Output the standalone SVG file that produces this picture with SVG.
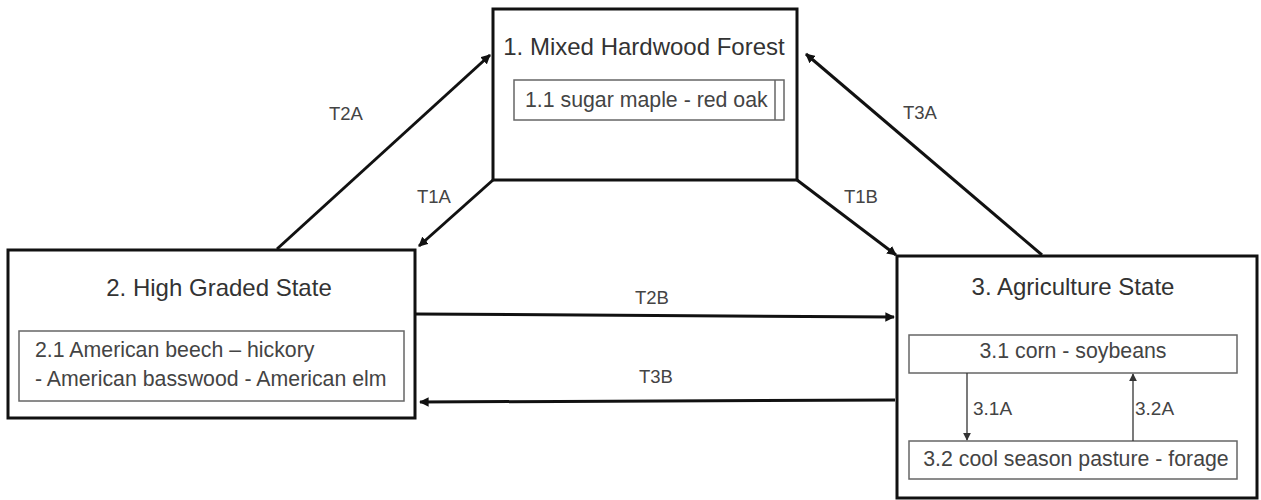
<svg xmlns="http://www.w3.org/2000/svg" width="1261" height="500" viewBox="0 0 1261 500">
<defs>
<style>
.box{fill:#fff;stroke:#111;stroke-width:3}
.inner{fill:#fff;stroke:#666;stroke-width:1.5}
.title{font-family:"Liberation Sans",Arial,sans-serif;font-size:24px;fill:#333;text-anchor:middle}
.sub{font-family:"Liberation Sans",Arial,sans-serif;font-size:21.3px;fill:#444}
.lbl{font-family:"Liberation Sans",Arial,sans-serif;font-size:18.5px;fill:#444;text-anchor:middle}
.conn{stroke:#111;stroke-width:3;fill:none}
.thin{stroke:#333;stroke-width:1.3;fill:none}
</style>
<marker id="ah" viewBox="0 0 10 10" refX="9" refY="5" markerWidth="3.2" markerHeight="3.2" orient="auto" markerUnits="strokeWidth">
<path d="M0,0 L10,5 L0,10 z" fill="#111"/>
</marker>
<marker id="ahs" viewBox="0 0 10 10" refX="9" refY="5" markerWidth="6" markerHeight="6" orient="auto" markerUnits="strokeWidth">
<path d="M0,0 L10,5 L0,10 z" fill="#333"/>
</marker>
</defs>
<rect width="1261" height="500" fill="#fff"/>

<g id="connectors">
<line class="conn" x1="277" y1="249" x2="490" y2="55" marker-end="url(#ah)"/>
<line class="conn" x1="493" y1="180" x2="419" y2="246" marker-end="url(#ah)"/>
<line class="conn" x1="1042" y1="255" x2="806" y2="54" marker-end="url(#ah)"/>
<line class="conn" x1="797" y1="180" x2="896" y2="255" marker-end="url(#ah)"/>
<line class="conn" x1="415" y1="314" x2="894" y2="317" marker-end="url(#ah)"/>
<line class="conn" x1="895" y1="400" x2="420" y2="402" marker-end="url(#ah)"/>
<text class="lbl" x="346" y="120">T2A</text>
<text class="lbl" x="434" y="203">T1A</text>
<text class="lbl" x="920" y="119">T3A</text>
<text class="lbl" x="861" y="203">T1B</text>
<text class="lbl" x="652" y="304">T2B</text>
<text class="lbl" x="656" y="383">T3B</text>
</g>

<g id="node1">
<rect class="box" x="493" y="9" width="304" height="171"/>
<text class="title" x="644" y="55">1. Mixed Hardwood Forest</text>
<rect class="inner" x="514" y="80" width="270" height="40"/>
<line class="inner" x1="775" y1="80" x2="775" y2="120"/>
<text class="sub" x="525" y="107">1.1 sugar maple - red oak</text>
</g>

<g id="node2">
<rect class="box" x="8" y="250" width="407" height="168"/>
<text class="title" x="219" y="296">2. High Graded State</text>
<rect class="inner" x="19" y="331" width="385" height="70"/>
<text class="sub" x="35" y="357">2.1 American beech – hickory</text>
<text class="sub" x="35" y="386">- American basswood - American elm</text>
</g>

<g id="node3">
<rect class="box" x="897" y="256" width="360" height="242"/>
<text class="title" x="1073" y="295">3. Agriculture State</text>
<rect class="inner" x="909" y="335" width="328" height="38"/>
<text class="sub" x="1073" y="358" text-anchor="middle">3.1 corn - soybeans</text>
<rect class="inner" x="909" y="441" width="328" height="38"/>
<text class="sub" x="1076" y="466" text-anchor="middle">3.2 cool season pasture - forage</text>
<line class="thin" x1="967" y1="373" x2="967" y2="440" marker-end="url(#ahs)"/>
<line class="thin" x1="1133" y1="441" x2="1133" y2="374" marker-end="url(#ahs)"/>
<text class="sub" x="973" y="415" style="font-size:19px">3.1A</text>
<text class="sub" x="1135" y="415" style="font-size:19px">3.2A</text>
</g>
</svg>
